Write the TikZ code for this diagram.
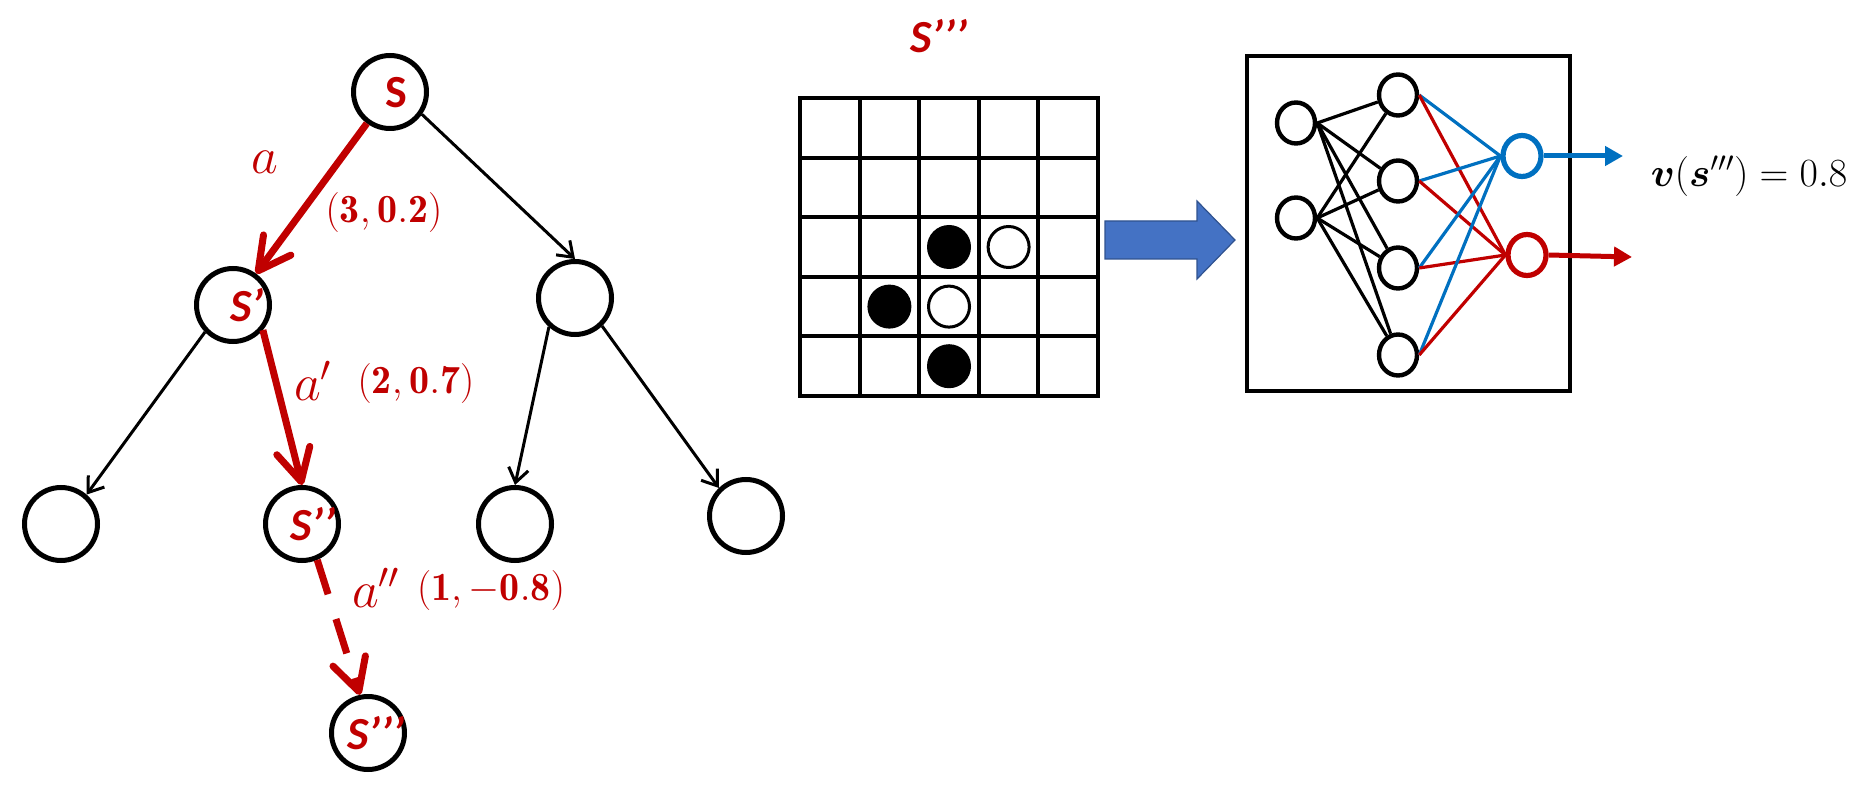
\RequirePackage{fix-cm}
\documentclass[tikz,border=0pt]{standalone}
\usepackage{fontspec}
\usepackage{amsmath}
\usetikzlibrary{arrows.meta,shapes.geometric}
\newfontfamily\calibri{Carlito}
\definecolor{myred}{HTML}{C00000}
\definecolor{myblue}{HTML}{0070C0}
\definecolor{arrfill}{HTML}{4472C4}
\definecolor{arrline}{HTML}{2F528F}
\begin{document}
\begin{tikzpicture}[x=0.5pt,y=-0.5pt,
  tnode/.style={circle,draw=black,line width=2.5pt,minimum size=36.5pt,inner sep=0pt},
  stext/.style={text=myred,font=\calibri\bfseries\fontsize{23}{27}\selectfont,inner sep=0pt},
  sitext/.style={stext,font=\calibri\bfseries\itshape\fontsize{23}{27}\selectfont},
  tarrow/.style={draw=black,line width=1.5pt,-{Straight Barb[length=7pt,width=10pt]}},
  rarrow/.style={draw=myred,line width=3.5pt,-{Straight Barb[length=16pt,width=17pt,round]}},
  alab/.style={text=myred,inner sep=0pt,font=\fontsize{26}{30}\selectfont},
  tlab/.style={text=myred,inner sep=0pt,font=\fontsize{20}{24}\selectfont},
  gridline/.style={line width=2pt},
  nn/.style={ellipse,draw=black,line width=2.2pt,minimum width=19pt,minimum height=20.5pt,inner sep=0pt},
  nnedge/.style={line width=1.6pt},
  outarrow/.style={line width=2.5pt,-{Triangle[length=9pt,width=9.5pt]}}
]
\useasboundingbox (0,0) rectangle (1866,796);

% ---------- tree ----------
\node[tnode] (S)   at (390,92)  {};
\node[tnode] (Sp)  at (233,305) {};
\node[tnode] (R)   at (575,298) {};
\node[tnode] (L1)  at (61,524)  {};
\node[tnode] (Spp) at (302,524) {};
\node[tnode] (L3)  at (515,524) {};
\node[tnode] (L4)  at (746,516) {};
\node[tnode] (Sppp) at (368,733) {};

\node[stext]  (tS)    at (396,93)  {S};
\node[sitext] (tSp)   at (247,305) {S’};
\node[sitext] (tSpp)  at (313,524) {S’’};
\node[sitext] (tSppp) at (376,733) {S’’’};

\draw[tarrow] (S.-35) -- (R.north);
\draw[tarrow] (Sp.-136) -- (L1.49);
\draw[tarrow] (R.-132) -- (L3.north);
\draw[tarrow] (R.-46) -- (L4.134);

\draw[rarrow] (S) -- (Sp);
\draw[rarrow] (Sp.-40) -- (Spp.north);
\draw[rarrow,dash pattern=on 18pt off 13pt] (Spp.-67) -- (Sppp.102);

\node[alab] (la)   at (265,162) {$a$};
\node[tlab] (lv1)  at (384,213) {$\mathbf{(3,0.2)}$};
\node[alab] (lap)  at (313,381) {$a'$};
\node[tlab] (lv2)  at (416,383) {$\mathbf{(2,0.7)}$};
\node[alab] (lapp) at (376,588) {$a''$};
\node[tlab] (lv3)  at (491,590) {$\mathbf{(1,-0.8)}$};

% ---------- board ----------
\node[sitext] (title) at (939,36) {S’’’};
\foreach \i in {0,...,5} {
  \draw[gridline] (800+59.6*\i,98) -- (800+59.6*\i,396);
  \draw[gridline] (800,98+59.6*\i) -- (1098,98+59.6*\i);
}
\draw[gridline,line join=miter] (800,98) rectangle (1098,396);
\fill[black] (949,247) circle[radius=11pt];
\fill[black] (889.4,306.6) circle[radius=11pt];
\fill[black] (949,366.2) circle[radius=11pt];
\draw[line width=1.5pt,fill=white] (1008.6,247) circle[radius=10.25pt];
\draw[line width=1.5pt,fill=white] (949,306.6) circle[radius=10.25pt];

% big arrow
\draw[draw=arrline,fill=arrfill,line width=0.6pt]
  (1105,221) -- (1197,221) -- (1197,201) -- (1235,240) -- (1197,279) -- (1197,259) -- (1105,259) -- cycle;

% ---------- network ----------
\draw[line width=2pt] (1247,56) rectangle (1570,391);
\node[nn] (I1) at (1296,123) {};
\node[nn] (I2) at (1296,218) {};
\node[nn] (H1) at (1398,95)  {};
\node[nn] (H2) at (1398,181) {};
\node[nn] (H3) at (1398,268) {};
\node[nn] (H4) at (1398,355) {};
\node[nn,draw=myblue,line width=2.6pt] (OB) at (1522,156) {};
\node[nn,draw=myred,line width=2.6pt]  (OR) at (1527,255) {};

\foreach \a in {I1,I2} {
  \foreach \b in {H1,H2,H3,H4} {
    \draw[nnedge] (\a.east) -- (\b);
  }
}
\foreach \b in {H1,H2,H3,H4} {
  \draw[nnedge,myblue] (\b.east) -- (OB.west);
  \draw[nnedge,myred]  (\b.east) -- (OR.west);
}

\coordinate (EB) at (1623,156);
\coordinate (ER) at (1632,257);
\draw[outarrow,myblue] (OB.east) -- (EB);
\draw[outarrow,myred]  (OR.east) -- (ER);

\node[inner sep=0pt,font=\fontsize{20}{24}\selectfont] (vout) at (1749,176)
  {$\boldsymbol{v}(\boldsymbol{s}''')=0.8$};
\end{tikzpicture}
\end{document}
